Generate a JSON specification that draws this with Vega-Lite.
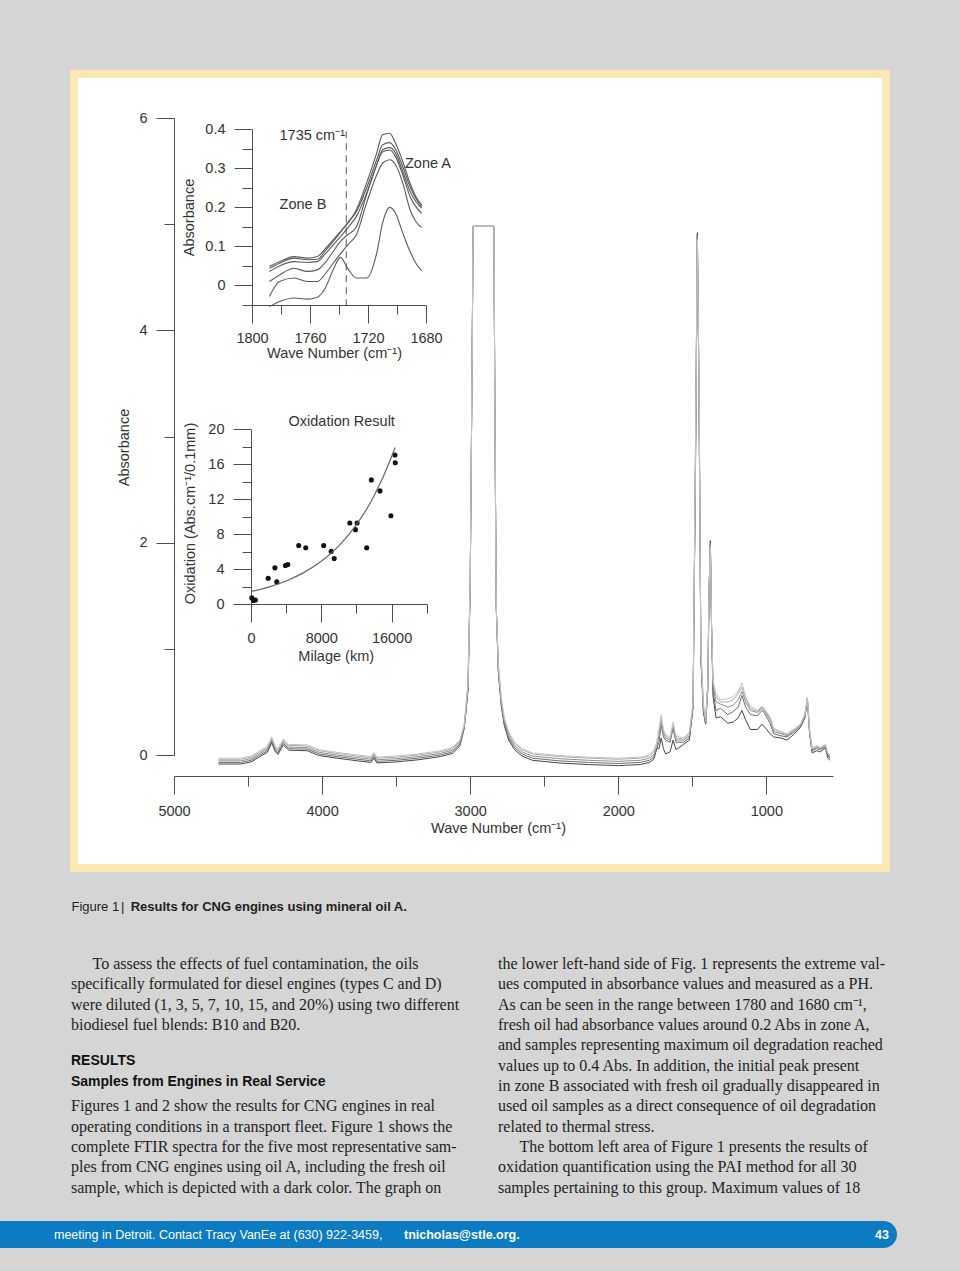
{
  "$schema": "https://vega.github.io/schema/vega-lite/v6.json",
  "background": "#d5d5d5",
  "padding": {"left": 0, "top": 70, "right": 0, "bottom": 23},
  "bounds": "flush",
  "center": true,
  "spacing": 0,
  "config": {
    "view": {"stroke": null},
    "font": "Liberation Sans",
    "axis": {
      "grid": false, "domainColor": "#4d4d4d", "tickColor": "#4d4d4d", "labelColor": "#333333", "titleColor": "#333333",
      "labelFont": "Liberation Sans", "titleFont": "Liberation Sans", "labelFontSize": 14.5, "titleFontSize": 14.5,
      "titleFontWeight": "normal", "labelOverlap": false, "labelFlush": false, "labelBound": false,
      "domainWidth": 1, "tickWidth": 1, "titleBaseline": "middle", "titleAlign": "center"
    }
  },
  "vconcat": [
    {
      "width": 812,
      "height": 794,
      "view": {"fill": "#ffffff", "stroke": "#fde8b3", "strokeWidth": 8},
      "resolve": {"scale": {"x": "independent", "y": "independent", "color": "independent"}, "axis": {"x": "independent", "y": "independent"}},
      "layer": [
        {
          "data": {"values": [
            {"w": 4700, "a": -0.085, "b": -0.07, "c": -0.055, "d": -0.04, "e": -0.03},
            {"w": 4550, "a": -0.085, "b": -0.07, "c": -0.055, "d": -0.04, "e": -0.03},
            {"w": 4480, "a": -0.065, "b": -0.05, "c": -0.035, "d": -0.02, "e": -0.01},
            {"w": 4420, "a": -0.015, "b": 0.0, "c": 0.015, "d": 0.03, "e": 0.04},
            {"w": 4370, "a": 0.025, "b": 0.04, "c": 0.055, "d": 0.07, "e": 0.08},
            {"w": 4340, "a": 0.115, "b": 0.13, "c": 0.145, "d": 0.16, "e": 0.17},
            {"w": 4318, "a": 0.035, "b": 0.05, "c": 0.065, "d": 0.08, "e": 0.09},
            {"w": 4298, "a": 0.005, "b": 0.02, "c": 0.035, "d": 0.05, "e": 0.06},
            {"w": 4262, "a": 0.095, "b": 0.11, "c": 0.125, "d": 0.14, "e": 0.15},
            {"w": 4225, "a": 0.045, "b": 0.06, "c": 0.075, "d": 0.09, "e": 0.1},
            {"w": 4100, "a": 0.04, "b": 0.055, "c": 0.07, "d": 0.085, "e": 0.095},
            {"w": 4020, "a": -0.005, "b": 0.01, "c": 0.025, "d": 0.04, "e": 0.05},
            {"w": 3900, "a": -0.03, "b": -0.015, "c": 0.0, "d": 0.015, "e": 0.025},
            {"w": 3760, "a": -0.055, "b": -0.04, "c": -0.025, "d": -0.01, "e": 0.0},
            {"w": 3670, "a": -0.07, "b": -0.055, "c": -0.04, "d": -0.025, "e": -0.015},
            {"w": 3650, "a": -0.03, "b": -0.015, "c": 0.0, "d": 0.015, "e": 0.025},
            {"w": 3630, "a": -0.075, "b": -0.06, "c": -0.045, "d": -0.03, "e": -0.02},
            {"w": 3500, "a": -0.065, "b": -0.05, "c": -0.035, "d": -0.02, "e": -0.01},
            {"w": 3350, "a": -0.045, "b": -0.03, "c": -0.015, "d": 0.0, "e": 0.01},
            {"w": 3200, "a": -0.015, "b": 0.0, "c": 0.015, "d": 0.03, "e": 0.04},
            {"w": 3120, "a": 0.015, "b": 0.03, "c": 0.045, "d": 0.06, "e": 0.07},
            {"w": 3070, "a": 0.085, "b": 0.1, "c": 0.115, "d": 0.13, "e": 0.14},
            {"w": 3040, "a": 0.25, "b": 0.26, "c": 0.27, "d": 0.28, "e": 0.29},
            {"w": 3015, "a": 0.6, "b": 0.62, "c": 0.64, "d": 0.66, "e": 0.68},
            {"w": 3000, "a": 1.55, "b": 1.58, "c": 1.6, "d": 1.62, "e": 1.65},
            {"w": 2990, "a": 3.2, "b": 3.2, "c": 3.2, "d": 3.2, "e": 3.2},
            {"w": 2980, "a": 4.98, "b": 4.98, "c": 4.98, "d": 4.98, "e": 4.98},
            {"w": 2840, "a": 4.98, "b": 4.98, "c": 4.98, "d": 4.98, "e": 4.98},
            {"w": 2832, "a": 3.0, "b": 3.0, "c": 3.0, "d": 3.0, "e": 3.0},
            {"w": 2824, "a": 1.4, "b": 1.4, "c": 1.4, "d": 1.4, "e": 1.4},
            {"w": 2810, "a": 0.78, "b": 0.8, "c": 0.82, "d": 0.84, "e": 0.86},
            {"w": 2790, "a": 0.46, "b": 0.48, "c": 0.5, "d": 0.52, "e": 0.54},
            {"w": 2770, "a": 0.28, "b": 0.3, "c": 0.32, "d": 0.34, "e": 0.36},
            {"w": 2740, "a": 0.14, "b": 0.16, "c": 0.18, "d": 0.2, "e": 0.22},
            {"w": 2700, "a": 0.05, "b": 0.07, "c": 0.09, "d": 0.11, "e": 0.12},
            {"w": 2650, "a": -0.01, "b": 0.01, "c": 0.03, "d": 0.05, "e": 0.06},
            {"w": 2580, "a": -0.05, "b": -0.03, "c": -0.01, "d": 0.01, "e": 0.02},
            {"w": 2400, "a": -0.075, "b": -0.055, "c": -0.035, "d": -0.015, "e": -0.005},
            {"w": 2200, "a": -0.09, "b": -0.07, "c": -0.05, "d": -0.03, "e": -0.02},
            {"w": 2000, "a": -0.1, "b": -0.08, "c": -0.06, "d": -0.04, "e": -0.03},
            {"w": 1850, "a": -0.09, "b": -0.07, "c": -0.05, "d": -0.03, "e": -0.02},
            {"w": 1790, "a": -0.07, "b": -0.05, "c": -0.03, "d": -0.01, "e": 0.0},
            {"w": 1760, "a": -0.04, "b": -0.02, "c": 0.0, "d": 0.03, "e": 0.05},
            {"w": 1740, "a": 0.06, "b": 0.06, "c": 0.08, "d": 0.1, "e": 0.12},
            {"w": 1725, "a": 0.06, "b": 0.12, "c": 0.18, "d": 0.22, "e": 0.25},
            {"w": 1710, "a": 0.16, "b": 0.28, "c": 0.33, "d": 0.36, "e": 0.38},
            {"w": 1695, "a": 0.06, "b": 0.17, "c": 0.2, "d": 0.22, "e": 0.24},
            {"w": 1680, "a": 0.01, "b": 0.14, "c": 0.16, "d": 0.18, "e": 0.19},
            {"w": 1650, "a": 0.03, "b": 0.12, "c": 0.14, "d": 0.15, "e": 0.17},
            {"w": 1630, "a": 0.14, "b": 0.25, "c": 0.27, "d": 0.29, "e": 0.31},
            {"w": 1610, "a": 0.05, "b": 0.12, "c": 0.14, "d": 0.16, "e": 0.18},
            {"w": 1560, "a": 0.1, "b": 0.12, "c": 0.14, "d": 0.15, "e": 0.16},
            {"w": 1520, "a": 0.14, "b": 0.16, "c": 0.18, "d": 0.2, "e": 0.22},
            {"w": 1495, "a": 0.45, "b": 0.45, "c": 0.47, "d": 0.48, "e": 0.5},
            {"w": 1478, "a": 2.8, "b": 2.85, "c": 2.9, "d": 2.95, "e": 3.0},
            {"w": 1466, "a": 4.92, "b": 4.9, "c": 4.88, "d": 4.86, "e": 4.85},
            {"w": 1455, "a": 3.4, "b": 3.45, "c": 3.5, "d": 3.55, "e": 3.6},
            {"w": 1442, "a": 0.9, "b": 0.92, "c": 0.95, "d": 0.98, "e": 1.0},
            {"w": 1425, "a": 0.4, "b": 0.42, "c": 0.44, "d": 0.46, "e": 0.48},
            {"w": 1410, "a": 0.29, "b": 0.3, "c": 0.31, "d": 0.32, "e": 0.34},
            {"w": 1396, "a": 0.6, "b": 0.62, "c": 0.64, "d": 0.66, "e": 0.68},
            {"w": 1386, "a": 1.6, "b": 1.6, "c": 1.6, "d": 1.6, "e": 1.6},
            {"w": 1378, "a": 2.02, "b": 2.0, "c": 1.98, "d": 1.97, "e": 1.95},
            {"w": 1370, "a": 1.2, "b": 1.2, "c": 1.2, "d": 1.2, "e": 1.2},
            {"w": 1360, "a": 0.55, "b": 0.6, "c": 0.65, "d": 0.68, "e": 0.7},
            {"w": 1340, "a": 0.35, "b": 0.42, "c": 0.5, "d": 0.55, "e": 0.58},
            {"w": 1310, "a": 0.36, "b": 0.44, "c": 0.48, "d": 0.5, "e": 0.52},
            {"w": 1260, "a": 0.3, "b": 0.38, "c": 0.45, "d": 0.5, "e": 0.53},
            {"w": 1223, "a": 0.31, "b": 0.41, "c": 0.47, "d": 0.52, "e": 0.55},
            {"w": 1190, "a": 0.35, "b": 0.45, "c": 0.52, "d": 0.58, "e": 0.6},
            {"w": 1165, "a": 0.42, "b": 0.56, "c": 0.6, "d": 0.64, "e": 0.68},
            {"w": 1140, "a": 0.33, "b": 0.45, "c": 0.5, "d": 0.53, "e": 0.55},
            {"w": 1108, "a": 0.24, "b": 0.38, "c": 0.42, "d": 0.44, "e": 0.46},
            {"w": 1060, "a": 0.24, "b": 0.37, "c": 0.4, "d": 0.41, "e": 0.42},
            {"w": 1030, "a": 0.29, "b": 0.42, "c": 0.44, "d": 0.45, "e": 0.46},
            {"w": 1015, "a": 0.27, "b": 0.4, "c": 0.42, "d": 0.43, "e": 0.44},
            {"w": 975, "a": 0.2, "b": 0.3, "c": 0.33, "d": 0.35, "e": 0.36},
            {"w": 950, "a": 0.17, "b": 0.2, "c": 0.22, "d": 0.24, "e": 0.25},
            {"w": 900, "a": 0.16, "b": 0.18, "c": 0.2, "d": 0.21, "e": 0.22},
            {"w": 860, "a": 0.14, "b": 0.17, "c": 0.18, "d": 0.19, "e": 0.2},
            {"w": 810, "a": 0.2, "b": 0.22, "c": 0.23, "d": 0.24, "e": 0.25},
            {"w": 770, "a": 0.26, "b": 0.27, "c": 0.28, "d": 0.28, "e": 0.29},
            {"w": 740, "a": 0.35, "b": 0.36, "c": 0.37, "d": 0.38, "e": 0.38},
            {"w": 723, "a": 0.52, "b": 0.53, "c": 0.53, "d": 0.54, "e": 0.54},
            {"w": 708, "a": 0.2, "b": 0.21, "c": 0.22, "d": 0.23, "e": 0.24},
            {"w": 691, "a": 0.02, "b": 0.04, "c": 0.05, "d": 0.06, "e": 0.06},
            {"w": 660, "a": 0.04, "b": 0.06, "c": 0.07, "d": 0.08, "e": 0.09},
            {"w": 635, "a": 0.03, "b": 0.05, "c": 0.06, "d": 0.07, "e": 0.07},
            {"w": 601, "a": 0.07, "b": 0.08, "c": 0.09, "d": 0.09, "e": 0.1},
            {"w": 585, "a": -0.03, "b": -0.01, "c": 0.0, "d": 0.01, "e": 0.02},
            {"w": 570, "a": -0.05, "b": -0.03, "c": -0.02, "d": -0.01, "e": 0.0}
          ]},
          "transform": [{"fold": ["a", "b", "c", "d", "e"], "as": ["s", "v"]}],
          "mark": {"type": "line", "strokeWidth": 1},
          "encoding": {
            "x": {"field": "w", "type": "quantitative",
              "scale": {"domain": [5000, 550], "range": [100, 759], "nice": false, "zero": false},
              "axis": {"orient": "bottom", "offset": -92, "values": [5000, 4500, 4000, 3500, 3000, 2500, 2000, 1500, 1000], "format": "d",
                "labelExpr": "datum.value % 1000 === 0 ? datum.label : ''",
                "tickSize": {"condition": {"test": "datum.value % 1000 === 0", "value": 18}, "value": 10},
                "labelPadding": 10, "title": "Wave Number (cm⁻¹)", "titleX": 424, "titleY": 52}},
            "y": {"field": "v", "type": "quantitative",
              "scale": {"domain": [0, 6], "range": [681, 44], "nice": false, "zero": false},
              "axis": {"orient": "left", "offset": -100, "values": [0, 1, 2, 3, 4, 5, 6], "format": "d",
                "labelExpr": "datum.value % 2 === 0 ? datum.label : ''",
                "tickSize": {"condition": {"test": "datum.value % 2 === 0", "value": 18}, "value": 10},
                "labelPadding": 9, "title": "Absorbance", "titleX": -50, "titleY": 373}},
            "color": {"field": "s", "type": "nominal",
              "scale": {"domain": ["a", "b", "c", "d", "e"], "range": ["#454545", "#6c6c6c", "#8e8e8e", "#ababab", "#c4c4c4"]},
              "legend": null}
          }
        },
        {
          "layer": [
            {
              "data": {"values": [
                {"w": 1788, "A": 0.049, "B": 0.044, "C": 0.036, "D": 0.010, "E": -0.028, "F": -0.054},
                {"w": 1781, "A": 0.061, "B": 0.057, "C": 0.050, "D": 0.027, "E": 0.010, "F": -0.041},
                {"w": 1771, "A": 0.074, "B": 0.070, "C": 0.061, "D": 0.044, "E": 0.019, "F": -0.032},
                {"w": 1762, "A": 0.070, "B": 0.066, "C": 0.059, "D": 0.036, "E": 0.010, "F": -0.035},
                {"w": 1755, "A": 0.074, "B": 0.067, "C": 0.061, "D": 0.040, "E": 0.010, "F": -0.030},
                {"w": 1749, "A": 0.096, "B": 0.091, "C": 0.083, "D": 0.061, "E": 0.032, "F": -0.003},
                {"w": 1744, "A": 0.117, "B": 0.113, "C": 0.104, "D": 0.087, "E": 0.057, "F": 0.040},
                {"w": 1739, "A": 0.138, "B": 0.136, "C": 0.125, "D": 0.113, "E": 0.081, "F": 0.072},
                {"w": 1734, "A": 0.159, "B": 0.161, "C": 0.147, "D": 0.130, "E": 0.104, "F": 0.044},
                {"w": 1728, "A": 0.194, "B": 0.189, "C": 0.177, "D": 0.150, "E": 0.130, "F": 0.019},
                {"w": 1721, "A": 0.262, "B": 0.249, "C": 0.236, "D": 0.232, "E": 0.211, "F": 0.019},
                {"w": 1714, "A": 0.339, "B": 0.322, "C": 0.309, "D": 0.309, "E": 0.283, "F": 0.083},
                {"w": 1710, "A": 0.386, "B": 0.360, "C": 0.347, "D": 0.342, "E": 0.313, "F": 0.159},
                {"w": 1705, "A": 0.390, "B": 0.366, "C": 0.353, "D": 0.347, "E": 0.322, "F": 0.200},
                {"w": 1701, "A": 0.364, "B": 0.349, "C": 0.339, "D": 0.330, "E": 0.309, "F": 0.185},
                {"w": 1696, "A": 0.317, "B": 0.304, "C": 0.292, "D": 0.283, "E": 0.262, "F": 0.134},
                {"w": 1691, "A": 0.262, "B": 0.253, "C": 0.241, "D": 0.228, "E": 0.194, "F": 0.087},
                {"w": 1687, "A": 0.228, "B": 0.223, "C": 0.215, "D": 0.202, "E": 0.164, "F": 0.057},
                {"w": 1683, "A": 0.206, "B": 0.202, "C": 0.198, "D": 0.185, "E": 0.148, "F": 0.038}
              ]},
              "transform": [{"fold": ["A", "B", "C", "D", "E", "F"], "as": ["s", "v"]}],
              "mark": {"type": "line", "strokeWidth": 1.1, "color": "#5a5a5a", "interpolate": "monotone"},
              "encoding": {
                "x": {"field": "w", "type": "quantitative",
                  "scale": {"domain": [1800, 1680], "range": [178, 352], "nice": false, "zero": false},
                  "axis": {"orient": "bottom", "offset": -563, "values": [1800, 1780, 1760, 1740, 1720, 1700, 1680], "format": "d",
                    "labelExpr": "datum.value % 40 === 0 ? datum.label : ''",
                    "tickSize": {"condition": {"test": "datum.value % 40 === 0", "value": 18}, "value": 9},
                    "labelPadding": 8, "title": "Wave Number (cm⁻¹)", "titleX": 260, "titleY": 48}},
                "y": {"field": "v", "type": "quantitative",
                  "scale": {"domain": [-0.05, 0.4], "range": [231, 55.3], "nice": false, "zero": false},
                  "axis": {"orient": "left", "offset": -178, "values": [-0.05, 0, 0.05, 0.1, 0.15, 0.2, 0.25, 0.3, 0.35, 0.4], "format": ".1~f",
                    "labelExpr": "abs(datum.value * 10 - round(datum.value * 10)) < 0.001 ? datum.label : ''",
                    "tickSize": {"condition": {"test": "abs(datum.value * 10 - round(datum.value * 10)) < 0.001", "value": 18}, "value": 10},
                    "labelPadding": 9, "title": "Absorbance", "titleX": -63, "titleY": 143}},
                "detail": {"field": "s"}
              }
            },
            {
              "data": {"values": [{}]},
              "mark": {"type": "rule", "strokeDash": [7, 5], "color": "#555555", "strokeWidth": 1},
              "encoding": {
                "x": {"datum": 1735, "type": "quantitative"},
                "y": {"datum": 0.395, "type": "quantitative"},
                "y2": {"datum": -0.05}
              }
            },
            {
              "data": {"values": [{}]},
              "mark": {"type": "text", "text": "1735 cm⁻¹", "align": "left", "baseline": "middle", "fontSize": 14.5, "color": "#333333"},
              "encoding": {"x": {"datum": 1781, "type": "quantitative"}, "y": {"datum": 0.383, "type": "quantitative"}}
            },
            {
              "data": {"values": [{}]},
              "mark": {"type": "text", "text": "Zone B", "align": "left", "baseline": "middle", "fontSize": 14.5, "color": "#333333"},
              "encoding": {"x": {"datum": 1781, "type": "quantitative"}, "y": {"datum": 0.206, "type": "quantitative"}}
            },
            {
              "data": {"values": [{}]},
              "mark": {"type": "text", "text": "Zone A", "align": "left", "baseline": "middle", "fontSize": 14.5, "color": "#333333"},
              "encoding": {"x": {"datum": 1694.5, "type": "quantitative"}, "y": {"datum": 0.311, "type": "quantitative"}}
            }
          ]
        },
        {
          "layer": [
            {
              "data": {"values": [
                {"km": 100, "ox": 0.7}, {"km": 300, "ox": 0.4}, {"km": 500, "ox": 0.45},
                {"km": 1960, "ox": 2.95}, {"km": 2720, "ox": 4.14}, {"km": 2940, "ox": 2.53},
                {"km": 3920, "ox": 4.41}, {"km": 4190, "ox": 4.52}, {"km": 5430, "ox": 6.7},
                {"km": 6230, "ox": 6.44}, {"km": 8270, "ox": 6.7}, {"km": 9130, "ox": 6.02},
                {"km": 9470, "ox": 5.21}, {"km": 11250, "ox": 9.27}, {"km": 12080, "ox": 9.27},
                {"km": 11890, "ox": 8.51}, {"km": 13170, "ox": 6.44}, {"km": 13700, "ox": 14.21},
                {"km": 14680, "ox": 12.95}, {"km": 15930, "ox": 10.11}, {"km": 16380, "ox": 17.05},
                {"km": 16420, "ox": 16.17}
              ]},
              "mark": {"type": "circle", "size": 26, "color": "#111111", "opacity": 1},
              "encoding": {
                "x": {"field": "km", "type": "quantitative",
                  "scale": {"domain": [0, 20000], "range": [177, 352.7], "nice": false, "zero": false},
                  "axis": {"orient": "bottom", "offset": -264, "values": [0, 4000, 8000, 12000, 16000, 20000], "format": "d",
                    "labelExpr": "datum.value % 8000 === 0 ? datum.label : ''",
                    "tickSize": {"condition": {"test": "datum.value % 8000 === 0", "value": 18}, "value": 9},
                    "labelPadding": 9, "title": "Milage (km)", "titleX": 261.7, "titleY": 52}},
                "y": {"field": "ox", "type": "quantitative",
                  "scale": {"domain": [0, 20], "range": [530, 355.3], "nice": false, "zero": false},
                  "axis": {"orient": "left", "offset": -177, "values": [0, 2, 4, 6, 8, 10, 12, 14, 16, 18, 20], "format": "d",
                    "labelExpr": "datum.value % 4 === 0 ? datum.label : ''",
                    "tickSize": {"condition": {"test": "datum.value % 4 === 0", "value": 18}, "value": 9},
                    "labelPadding": 9, "title": "Oxidation (Abs.cm⁻¹/0.1mm)", "titleX": -61, "titleY": 439}}
              }
            },
            {
              "data": {"values": [
                {"km": 0, "fit": 1.42}, {"km": 2000, "fit": 1.93}, {"km": 4000, "fit": 2.64},
                {"km": 6000, "fit": 3.59}, {"km": 8000, "fit": 4.89}, {"km": 10000, "fit": 6.66},
                {"km": 12000, "fit": 9.08}, {"km": 14000, "fit": 12.37}, {"km": 16000, "fit": 16.85},
                {"km": 16400, "fit": 17.92}
              ]},
              "mark": {"type": "line", "color": "#666666", "strokeWidth": 1.2, "interpolate": "monotone"},
              "encoding": {
                "x": {"field": "km", "type": "quantitative"},
                "y": {"field": "fit", "type": "quantitative"}
              }
            },
            {
              "data": {"values": [{}]},
              "mark": {"type": "text", "text": "Oxidation Result", "align": "center", "baseline": "middle", "fontSize": 14.5, "color": "#333333"},
              "encoding": {"x": {"datum": 10325, "type": "quantitative"}, "y": {"datum": 20.87, "type": "quantitative"}}
            }
          ]
        }
      ]
    },
    {
      "width": 960,
      "height": 353,
      "resolve": {"scale": {"x": "independent", "y": "independent"}},
      "layer": [
        {
          "data": {"values": [{"p": "fig", "t": "Figure 1"}, {"p": "bar", "t": "|"}]},
          "mark": {"type": "text", "align": "left", "baseline": "middle", "font": "Liberation Sans", "fontSize": 13, "color": "#231f20"},
          "encoding": {
            "x": {"field": "p", "type": "nominal", "scale": {"type": "point", "domain": ["fig", "bar"], "range": [71.5, 121], "padding": 0}, "axis": null},
            "y": {"field": "p", "type": "nominal", "scale": {"type": "point", "domain": ["fig", "bar"], "range": [39.3, 39.3], "padding": 0}, "axis": null},
            "text": {"field": "t"}
          }
        },
        {
          "data": {"values": [{"p": "cap", "t": "Results for CNG engines using mineral oil A."}]},
          "mark": {"type": "text", "align": "left", "baseline": "middle", "font": "Liberation Sans", "fontWeight": "bold", "fontSize": 13, "color": "#231f20"},
          "encoding": {
            "x": {"field": "p", "type": "nominal", "scale": {"type": "point", "range": [130.7, 130.7], "padding": 0}, "axis": null},
            "y": {"field": "p", "type": "nominal", "scale": {"type": "point", "range": [39.3, 39.3], "padding": 0}, "axis": null},
            "text": {"field": "t"}
          }
        },
        {
          "data": {"values": [
            {"col": "left", "line": 2, "t": "specifically formulated for diesel engines (types C and D)"},
            {"col": "left", "line": 3, "t": "were diluted (1, 3, 5, 7, 10, 15, and 20%) using two different"},
            {"col": "left", "line": 4, "t": "biodiesel fuel blends: B10 and B20."},
            {"col": "left", "line": 8, "t": "Figures 1 and 2 show the results for CNG engines in real"},
            {"col": "left", "line": 9, "t": "operating conditions in a transport fleet. Figure 1 shows the"},
            {"col": "left", "line": 10, "t": "complete FTIR spectra for the five most representative sam-"},
            {"col": "left", "line": 11, "t": "ples from CNG engines using oil A, including the fresh oil"},
            {"col": "left", "line": 12, "t": "sample, which is depicted with a dark color. The graph on"},
            {"col": "right", "line": 1, "t": "the lower left-hand side of Fig. 1 represents the extreme val-"},
            {"col": "right", "line": 2, "t": "ues computed in absorbance values and measured as a PH."},
            {"col": "right", "line": 3, "t": "As can be seen in the range between 1780 and 1680 cm⁻¹,"},
            {"col": "right", "line": 4, "t": "fresh oil had absorbance values around 0.2 Abs in zone A,"},
            {"col": "right", "line": 5, "t": "and samples representing maximum oil degradation reached"},
            {"col": "right", "line": 6, "t": "values up to 0.4 Abs. In addition, the initial peak present"},
            {"col": "right", "line": 7, "t": "in zone B associated with fresh oil gradually disappeared in"},
            {"col": "right", "line": 8, "t": "used oil samples as a direct consequence of oil degradation"},
            {"col": "right", "line": 9, "t": "related to thermal stress."},
            {"col": "right", "line": 11, "t": "oxidation quantification using the PAI method for all 30"},
            {"col": "right", "line": 12, "t": "samples pertaining to this group. Maximum values of 18"}
          ]},
          "mark": {"type": "text", "align": "left", "baseline": "middle", "font": "Liberation Serif", "fontSize": 16, "color": "#231f20"},
          "encoding": {
            "x": {"field": "col", "type": "nominal", "scale": {"type": "point", "domain": ["left", "right"], "range": [71, 498], "padding": 0}, "axis": null},
            "y": {"field": "line", "type": "quantitative", "scale": {"domain": [1, 12], "range": [96, 319.7], "nice": false, "zero": false}, "axis": null},
            "text": {"field": "t"}
          }
        },
        {
          "data": {"values": [
            {"col": "left", "line": 1, "t": "To assess the effects of fuel contamination, the oils"},
            {"col": "right", "line": 10, "t": "The bottom left area of Figure 1 presents the results of"}
          ]},
          "mark": {"type": "text", "align": "left", "baseline": "middle", "dx": 21.5, "font": "Liberation Serif", "fontSize": 16, "color": "#231f20"},
          "encoding": {
            "x": {"field": "col", "type": "nominal", "scale": {"type": "point", "domain": ["left", "right"], "range": [71, 498], "padding": 0}, "axis": null},
            "y": {"field": "line", "type": "quantitative", "scale": {"domain": [1, 12], "range": [96, 319.7], "nice": false, "zero": false}, "axis": null},
            "text": {"field": "t"}
          }
        },
        {
          "data": {"values": [
            {"col": "left", "line": 6, "t": "RESULTS"},
            {"col": "left", "line": 7, "t": "Samples from Engines in Real Service"}
          ]},
          "mark": {"type": "text", "align": "left", "baseline": "middle", "dy": -4.5, "font": "Liberation Sans", "fontWeight": "bold", "fontSize": 14, "color": "#111111"},
          "encoding": {
            "x": {"field": "col", "type": "nominal", "scale": {"type": "point", "domain": ["left", "right"], "range": [71, 498], "padding": 0}, "axis": null},
            "y": {"field": "line", "type": "quantitative", "scale": {"domain": [1, 12], "range": [96, 319.7], "nice": false, "zero": false}, "axis": null},
            "text": {"field": "t"}
          }
        }
      ]
    },
    {
      "width": 960,
      "height": 27,
      "resolve": {"scale": {"x": "independent", "y": "independent"}},
      "layer": [
        {
          "data": {"values": [{"seg": "footer", "n": 1}]},
          "mark": {"type": "bar", "color": "#0c7bc2", "cornerRadiusEnd": 13.5},
          "encoding": {
            "x": {"field": "n", "type": "quantitative", "scale": {"domain": [0, 1], "range": [0, 897], "nice": false}, "axis": null},
            "y": {"field": "seg", "type": "nominal", "scale": {"type": "band", "paddingInner": 0, "paddingOuter": 0}, "axis": null}
          }
        },
        {
          "data": {"values": [{"p": "a", "t": "meeting in Detroit. Contact Tracy VanEe at (630) 922-3459,"}]},
          "mark": {"type": "text", "align": "left", "baseline": "middle", "font": "Liberation Sans", "fontSize": 12.5, "color": "#ffffff"},
          "encoding": {
            "x": {"field": "p", "type": "nominal", "scale": {"type": "point", "range": [54, 54], "padding": 0}, "axis": null},
            "text": {"field": "t"}
          }
        },
        {
          "data": {"values": [{"p": "b", "t": "tnicholas@stle.org."}]},
          "mark": {"type": "text", "align": "left", "baseline": "middle", "font": "Liberation Sans", "fontWeight": "bold", "fontSize": 12.5, "color": "#ffffff"},
          "encoding": {
            "x": {"field": "p", "type": "nominal", "scale": {"type": "point", "range": [404, 404], "padding": 0}, "axis": null},
            "text": {"field": "t"}
          }
        },
        {
          "data": {"values": [{"p": "c", "t": "43"}]},
          "mark": {"type": "text", "align": "right", "baseline": "middle", "font": "Liberation Sans", "fontWeight": "bold", "fontSize": 12.5, "color": "#ffffff"},
          "encoding": {
            "x": {"field": "p", "type": "nominal", "scale": {"type": "point", "range": [889, 889], "padding": 0}, "axis": null},
            "text": {"field": "t"}
          }
        }
      ]
    }
  ]
}
